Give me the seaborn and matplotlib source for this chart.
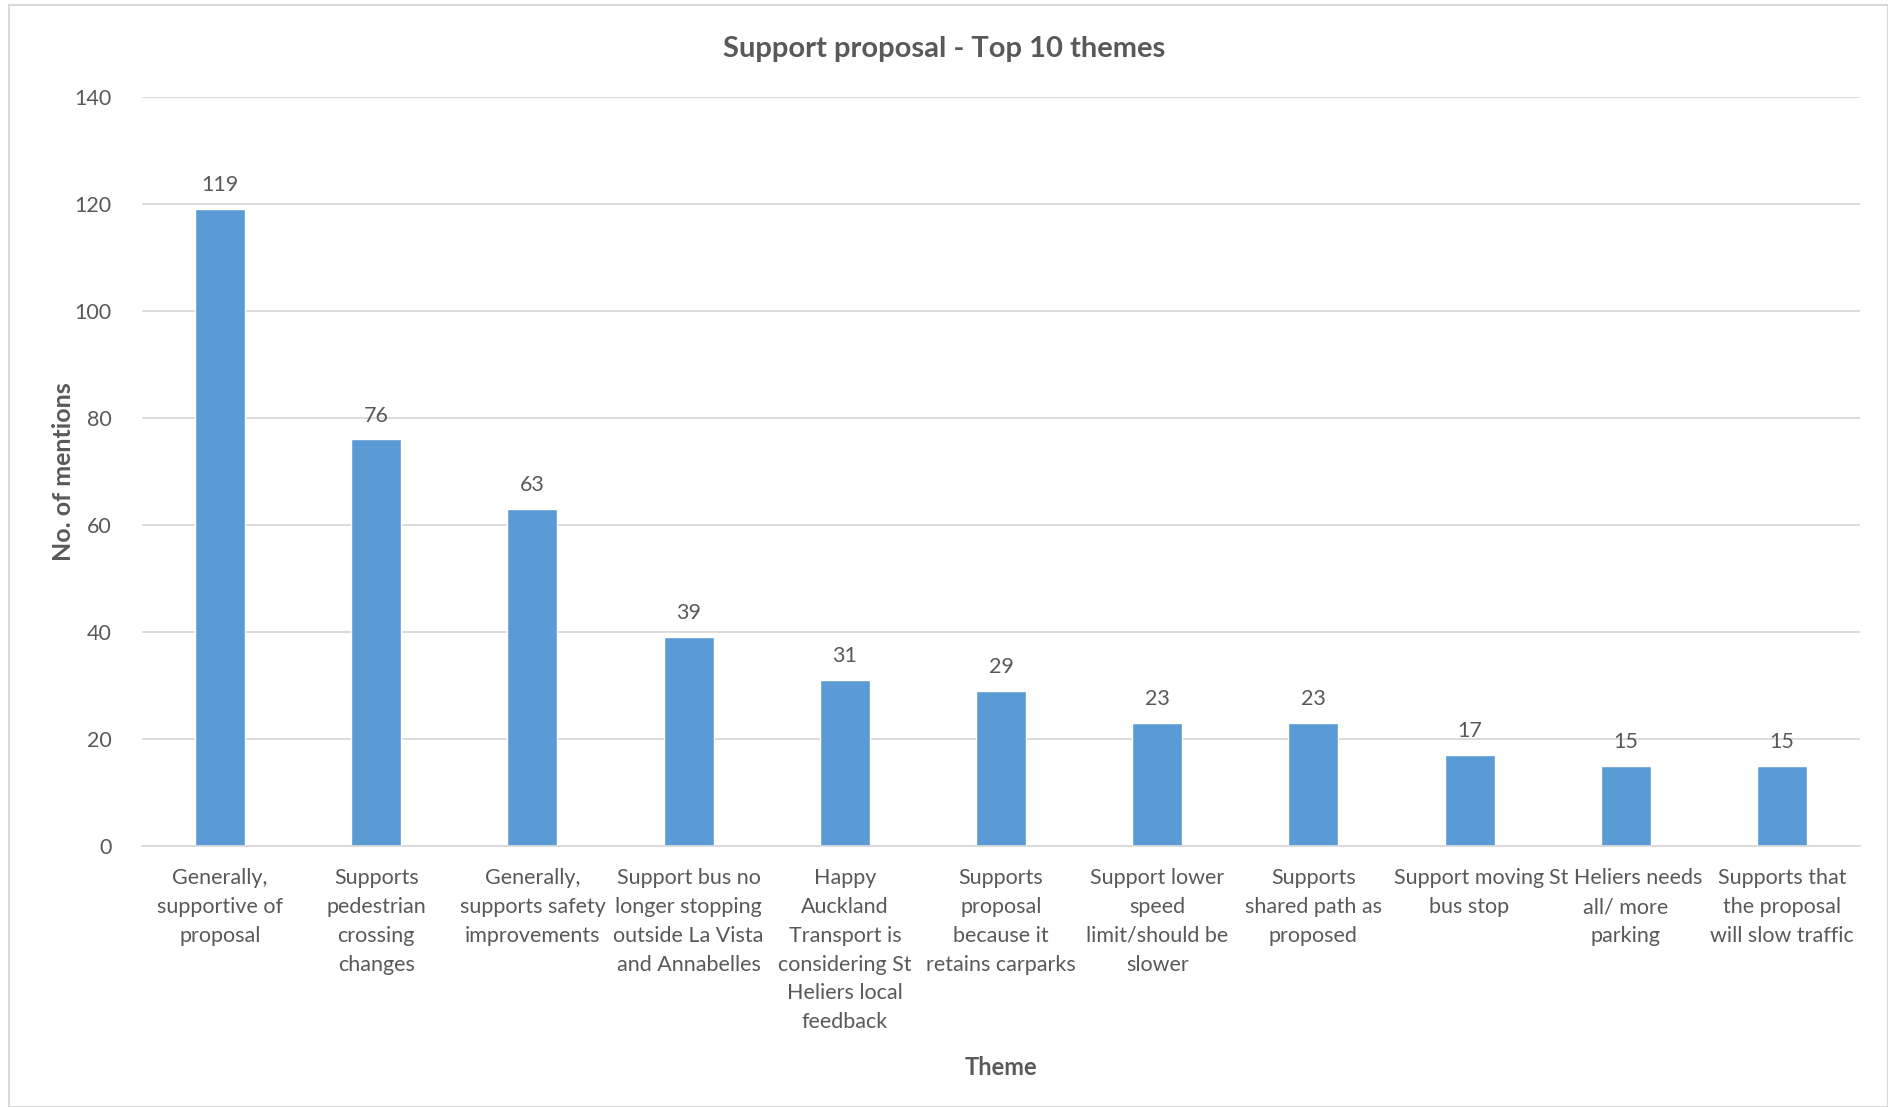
import matplotlib
matplotlib.use('Agg')
import matplotlib.pyplot as plt
import seaborn as sns
import pandas as pd
from matplotlib.patches import Rectangle

themes = [
    'Generally,\nsupportive of\nproposal',
    'Supports\npedestrian\ncrossing\nchanges',
    'Generally,\nsupports safety\nimprovements',
    'Support bus no\nlonger stopping\noutside La Vista\nand Annabelles',
    'Happy\nAuckland\nTransport is\nconsidering St\nHeliers local\nfeedback',
    'Supports\nproposal\nbecause it\nretains carparks',
    'Support lower\nspeed\nlimit/should be\nslower',
    'Supports\nshared path as\nproposed',
    'Support moving\nbus stop',
    'St Heliers needs\nall/ more\nparking',
    'Supports that\nthe proposal\nwill slow traffic',
]
mentions = [119, 76, 63, 39, 31, 29, 23, 23, 17, 15, 15]
y_ticks = [0, 20, 40, 60, 80, 100, 120, 140]

BAR = '#5B9BD5'
TEXT = '#595959'
GRID = '#D9D9D9'

sns.set_style('white')
plt.rcParams['font.family'] = ['Lato', 'DejaVu Sans']

df = pd.DataFrame({'Theme': themes, 'Mentions': mentions})

fig = plt.figure(figsize=(18.88, 11.07), dpi=100)
ax = fig.add_axes([142 / 1888, 1 - 846 / 1107, (1860 - 142) / 1888, (846 - 97) / 1107])

sns.barplot(data=df, x='Theme', y='Mentions', color=BAR, width=0.32,
            saturation=1, ax=ax)

ax.set_ylim(0, 140)
ax.set_xlim(-0.5, len(themes) - 0.5)
ax.set_yticks(y_ticks)
ax.yaxis.grid(True, color=GRID, linewidth=1.3)
ax.set_axisbelow(True)
for s in ['top', 'right', 'left']:
    ax.spines[s].set_visible(False)
ax.spines['bottom'].set_color(GRID)
ax.spines['bottom'].set_linewidth(1.3)
ax.tick_params(axis='both', length=0, colors=TEXT, labelsize=15.5)
ax.tick_params(axis='x', pad=16)
ax.tick_params(axis='y', pad=22)
for lbl in ax.get_xticklabels():
    lbl.set_linespacing(1.55)

for c in ax.containers:
    ax.bar_label(c, labels=[str(v) for v in mentions], padding=10,
                 color=TEXT, fontsize=15.5)

ax.set_xlabel('Theme', fontsize=17, fontweight='bold', color=TEXT)
ax.xaxis.set_label_coords(0.5, (846 - 1056) / (846 - 97))
ax.set_ylabel('No. of mentions', fontsize=18, fontweight='bold', color=TEXT)
ax.yaxis.set_label_coords((75 - 142) / (1860 - 142), (846 - 472) / (846 - 97))

fig.text(0.5, 1 - 49 / 1107, 'Support proposal - Top 10 themes', ha='center',
         va='center', fontsize=21, fontweight='bold', color=TEXT)

fig.patches.append(Rectangle((9 / 1888, 0), 1 - 9 / 1888, 1 - 5 / 1107,
                             transform=fig.transFigure, fill=False,
                             edgecolor=GRID, linewidth=1.5))

fig.savefig('out.png', dpi=100)
